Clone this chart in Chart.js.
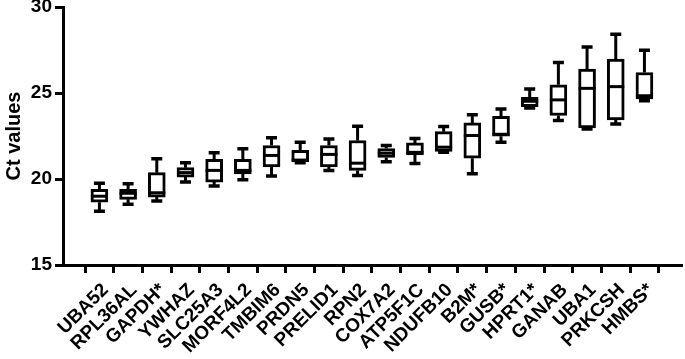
<!DOCTYPE html>
<html lang="en">
<head>
    <meta charset="UTF-8">
    <title>Ct values box plot</title>
    <style>
        body {
            margin: 0;
            background-color: white;
        }
        .container {
            width: 685px;
            height: 359px;
        }
    </style>
</head>
<body>
    <div class="container">
        <canvas id="ctChart" width="685" height="359"></canvas>
    </div>

    <script src="https://cdn.jsdelivr.net/npm/chart.js"></script>
    <script>
        const genes = ['UBA52', 'RPL36AL', 'GAPDH*', 'YWHAZ', 'SLC25A3', 'MORF4L2', 'TMBIM6', 'PRDN5', 'PRELID1', 'RPN2',
            'COX7A2', 'ATP5F1C', 'NDUFB10', 'B2M*', 'GUSB*', 'HPRT1*', 'GANAB', 'UBA1', 'PRKCSH', 'HMBS*'];
        const maxValues = [19.75, 19.73, 21.18, 20.95, 21.53, 21.76, 22.4, 22.14, 22.33, 23.07, 21.95, 22.35, 23.05, 23.74, 24.07, 25.23, 26.77, 27.68, 28.42, 27.49];
        const q3Values = [19.4, 19.4, 20.37, 20.66, 21.14, 21.14, 21.95, 21.66, 21.95, 22.24, 21.77, 22.1, 22.75, 23.26, 23.65, 24.75, 25.48, 26.39, 26.97, 26.19];
        const medianValues = [19.0, 19.17, 19.2, 20.37, 20.5, 20.5, 21.37, 21.1, 21.43, 20.92, 21.5, 21.55, 21.85, 22.53, 22.6, 24.52, 24.6, 25.27, 25.37, 24.84];
        const q1Values = [18.65, 18.82, 18.95, 20.11, 19.82, 20.3, 20.7, 21.0, 20.7, 20.5, 21.25, 21.4, 21.6, 21.21, 22.49, 24.2, 23.69, 22.97, 23.44, 24.65];
        const minValues = [18.13, 18.53, 18.72, 19.82, 19.59, 19.96, 20.17, 20.95, 20.5, 20.2, 21.0, 20.9, 21.56, 20.31, 22.14, 24.13, 23.4, 22.9, 23.2, 24.55];
        const yTicks = [15, 20, 25, 30];

        const FONT = 'Liberation Sans, Arial, sans-serif';
        const BOX_W = 17;
        const CAP_W = 11;

        // whiskers, caps and medians on top of the floating bars
        const whiskerPlugin = {
            id: 'whiskers',
            afterDatasetsDraw(chart) {
                const ctx = chart.ctx;
                const xs = chart.scales.x;
                const ys = chart.scales.y;
                ctx.save();
                ctx.strokeStyle = '#000';
                ctx.lineWidth = 3;
                ctx.lineCap = 'butt';
                genes.forEach((g, i) => {
                    const x = xs.getPixelForValue(i);
                    const yMax = ys.getPixelForValue(maxValues[i]);
                    const yQ3 = ys.getPixelForValue(q3Values[i]);
                    const yMed = ys.getPixelForValue(medianValues[i]);
                    const yQ1 = ys.getPixelForValue(q1Values[i]);
                    const yMin = ys.getPixelForValue(minValues[i]);
                    ctx.beginPath();
                    ctx.moveTo(x, yQ3);
                    ctx.lineTo(x, yMax);
                    ctx.moveTo(x, yQ1);
                    ctx.lineTo(x, yMin);
                    ctx.stroke();
                    ctx.lineWidth = 3.5;
                    ctx.beginPath();
                    ctx.moveTo(x - CAP_W / 2, yMax);
                    ctx.lineTo(x + CAP_W / 2, yMax);
                    ctx.moveTo(x - CAP_W / 2, yMin);
                    ctx.lineTo(x + CAP_W / 2, yMin);
                    ctx.stroke();
                    ctx.lineWidth = 3;
                    ctx.beginPath();
                    ctx.moveTo(x - BOX_W / 2, yMed);
                    ctx.lineTo(x + BOX_W / 2, yMed);
                    ctx.stroke();
                });
                ctx.restore();
            }
        };

        const ctx = document.getElementById('ctChart').getContext('2d');
        const ctChart = new Chart(ctx, {
            type: 'bar',
            data: {
                datasets: [{
                    data: genes.map((g, i) => ({ x: i, y: [q1Values[i], q3Values[i]] })),
                    backgroundColor: '#fff',
                    borderColor: '#000',
                    borderWidth: 3,
                    borderSkipped: false,
                    barThickness: BOX_W
                }]
            },
            options: {
                responsive: false,
                animation: false,
                layout: { padding: { top: 7, right: 3, left: 0, bottom: 0 } },
                plugins: {
                    legend: { display: false },
                    tooltip: { enabled: false }
                },
                scales: {
                    x: {
                        type: 'linear',
                        min: -0.73,
                        max: 19.77,
                        afterBuildTicks: (scale) => {
                            scale.ticks = genes.map((g, i) => ({ value: i }));
                        },
                        afterFit: (scale) => {
                            scale.height = 94;
                            scale.paddingLeft = 0;
                            scale.paddingRight = 0;
                        },
                        ticks: {
                            autoSkip: false,
                            minRotation: 45,
                            maxRotation: 45,
                            padding: 6,
                            labelOffset: 6,
                            color: '#000',
                            font: { family: FONT, size: 19, weight: 'bold' },
                            callback: (v) => genes[v]
                        },
                        grid: {
                            drawOnChartArea: false,
                            drawTicks: true,
                            tickLength: 8,
                            tickWidth: 3,
                            tickColor: '#000'
                        },
                        border: { display: true, width: 3, color: '#000' }
                    },
                    y: {
                        min: 15,
                        max: 30,
                        afterBuildTicks: (scale) => {
                            scale.ticks = yTicks.map(v => ({ value: v }));
                        },
                        afterFit: (scale) => {
                            scale.width = 63;
                            scale.paddingTop = 0;
                            scale.paddingBottom = 0;
                        },
                        ticks: {
                            color: '#000',
                            padding: 3,
                            font: { family: FONT, size: 19, weight: 'bold' }
                        },
                        title: {
                            display: true,
                            text: 'Ct values',
                            color: '#000',
                            padding: 2,
                            font: { family: FONT, size: 20, weight: 'bold' }
                        },
                        grid: {
                            drawOnChartArea: false,
                            drawTicks: true,
                            tickLength: 8,
                            tickWidth: 3,
                            tickColor: '#000'
                        },
                        border: { display: true, width: 3, color: '#000' }
                    }
                }
            },
            plugins: [whiskerPlugin]
        });
    </script>
</body>
</html>
